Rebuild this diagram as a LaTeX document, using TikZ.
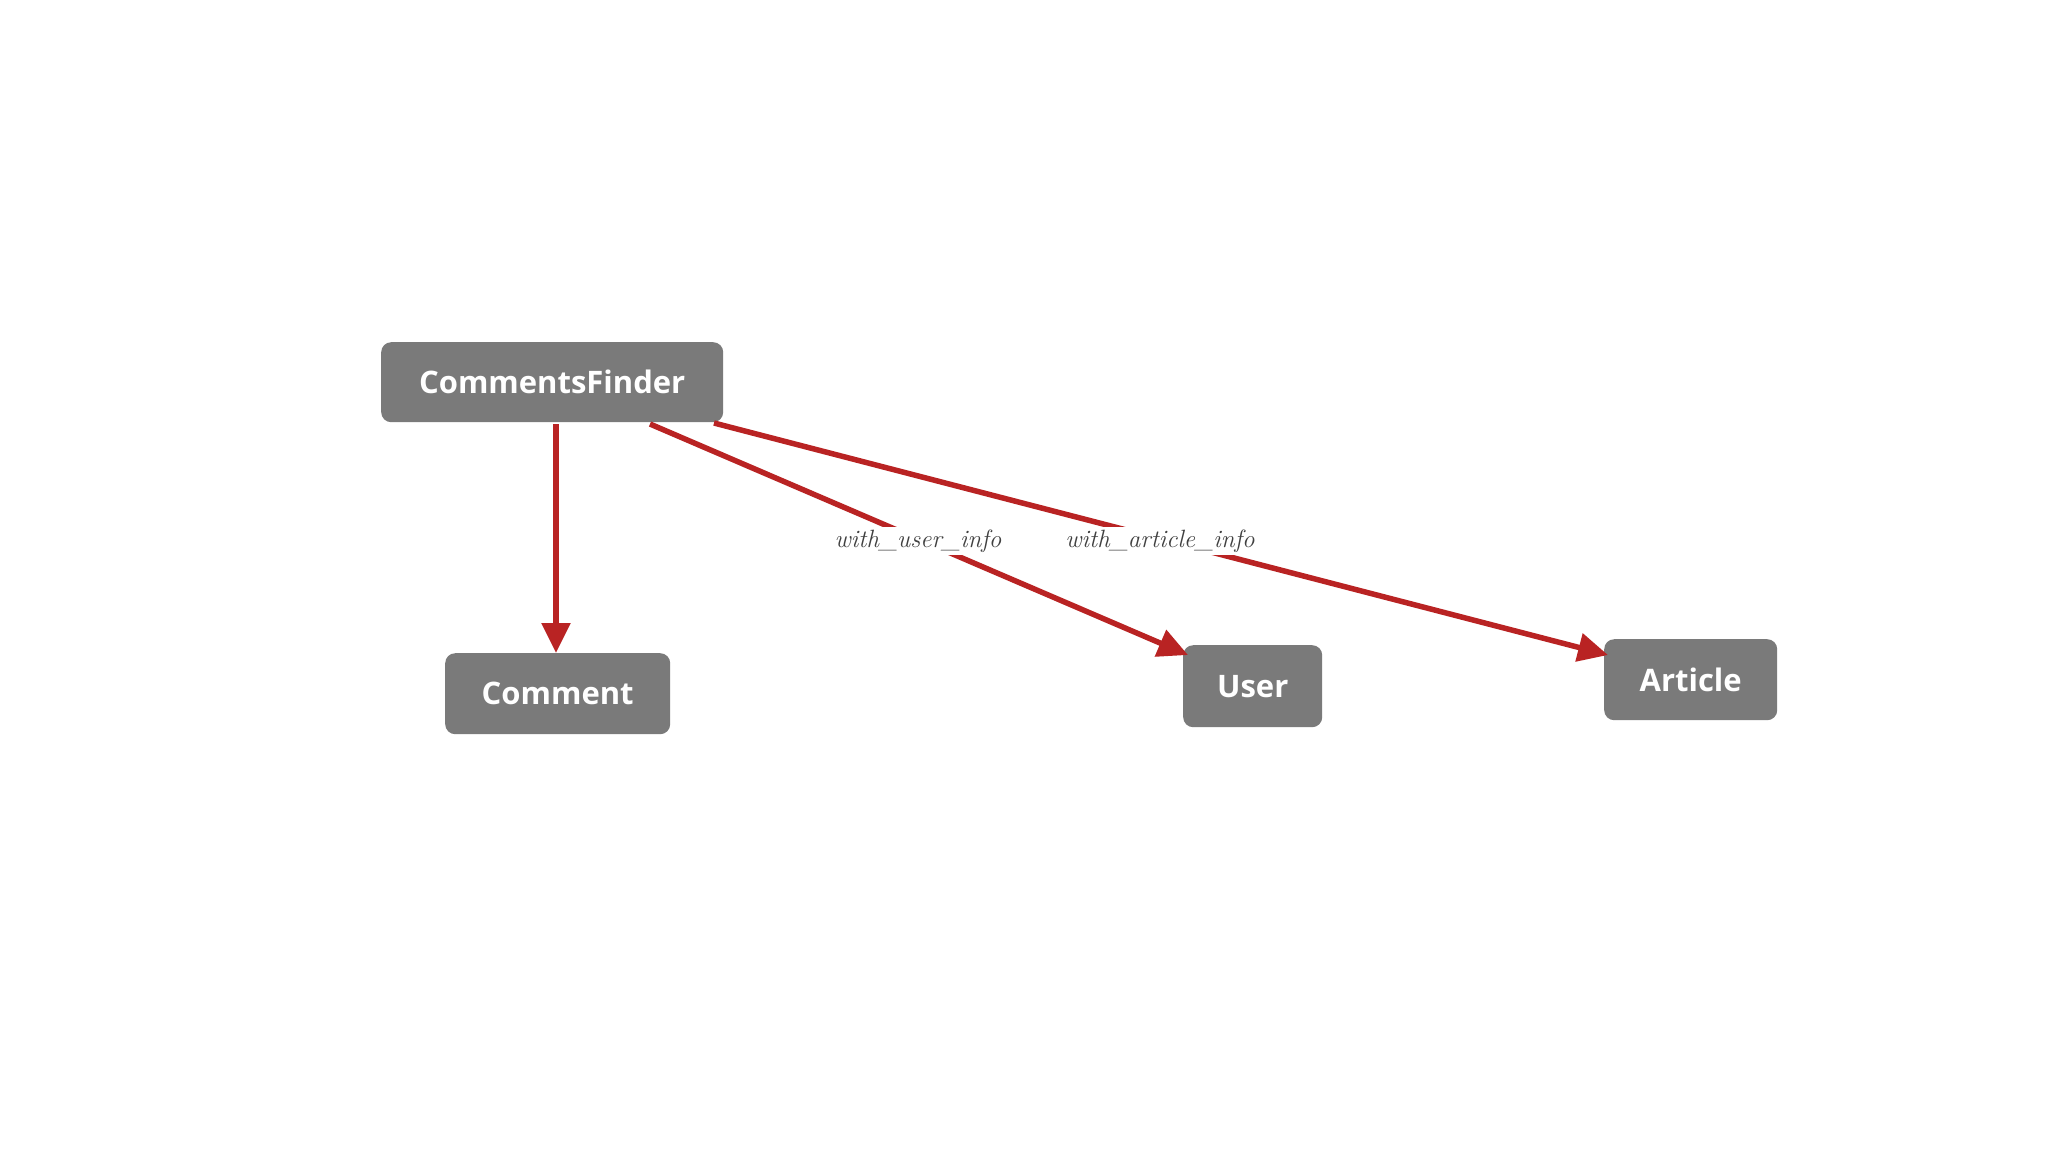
\documentclass[tikz,border=0pt]{standalone}
\usepackage{fontspec}
\setsansfont{Open Sans}
\usetikzlibrary{arrows.meta}
\tikzset{
  box/.style={draw=none,fill=black!52,rounded corners=10pt,text=white,font=\sffamily\bfseries\fontsize{31}{34}\selectfont,anchor=north west,inner sep=0pt},
  conn/.style={draw={rgb,255:red,185;green,35;blue,35},line width=5.5pt,-{Triangle[length=30pt,width=28pt]}},
  lbl/.style={fill=white,font=\itshape\fontsize{25}{27}\selectfont,text=black!75,inner sep=3pt}
}
\begin{document}
\begin{tikzpicture}[x=1pt,y=-1pt]
\useasboundingbox (0,0) rectangle (2048,1152);
\fill[white] (0,0) rectangle (2048,1152);
\node[box,minimum width=342pt,minimum height=80pt] (cf) at (381,342) {CommentsFinder};
\node[box,minimum width=225pt,minimum height=81pt] (cm) at (445,653) {Comment};
\node[box,minimum width=139pt,minimum height=82pt] (us) at (1183,645) {User};
\node[box,minimum width=173pt,minimum height=81pt] (ar) at (1604,639) {Article};
\coordinate (s1) at (556,424);
\coordinate (s2) at (650,424);
\coordinate (s3) at (714,423);
\draw[conn] (s1) -- (cm.north -| s1);
\draw[conn] (s2) -- (1188,655) coordinate (e2);
\draw[conn] (s3) -- (1608,655) coordinate (e3);
\node[lbl] (l1) at (918,541) {with\_user\_info};
\node[lbl] (l2) at (1160,541) {with\_article\_info};
\end{tikzpicture}
\end{document}
